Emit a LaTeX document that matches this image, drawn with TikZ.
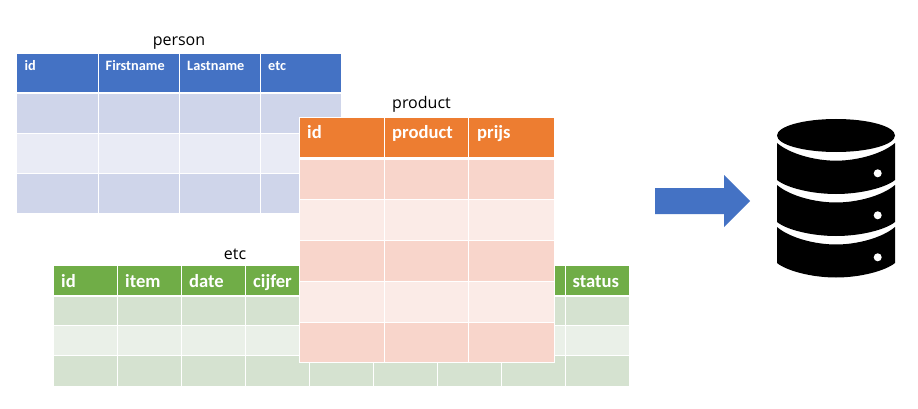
\documentclass[tikz,border=0pt]{standalone}
\usepackage{fontspec}
\setmainfont{Carlito}
\newfontfamily\titlefont{Open Sans}
\definecolor{bluehead}{HTML}{4472C4}
\definecolor{bluedark}{HTML}{CFD5EA}
\definecolor{bluelight}{HTML}{E9EBF5}
\definecolor{orangehead}{HTML}{ED7D31}
\definecolor{orangedark}{HTML}{F8D5CB}
\definecolor{orangelight}{HTML}{FBEBE7}
\definecolor{greenhead}{HTML}{70AD47}
\definecolor{greendark}{HTML}{D5E2D0}
\definecolor{greenlight}{HTML}{EAF0E8}
\tikzset{
  x=1pt,y=-1pt,
  tabletitle/.style={font=\titlefont\fontsize{16}{18}\selectfont,text=black,inner sep=0pt,anchor=base},
  headtext/.style={font=\bfseries\fontsize{#1}{18}\selectfont,text=white,inner sep=0pt,anchor=base west},
  sep/.style={white,line width=1pt},
  dbpart/.style={fill=black,draw=none}
}
\begin{document}
\begin{tikzpicture}
\useasboundingbox (0,0) rectangle (918,409);
\fill[white] (0,0) rectangle (918,409);

% person table
\fill[bluehead] (17,54) rectangle (341,92);
\fill[bluedark] (17,94.5) rectangle (341,133.5);
\fill[bluelight] (17,133.5) rectangle (341,173.5);
\fill[bluedark] (17,173.5) rectangle (341,213);
\foreach \c in {98,179,260} \draw[sep] (\c,54) -- (\c,213);
\draw[sep] (17,133.5) -- (341,133.5);
\draw[sep] (17,173.5) -- (341,173.5);
\node[tabletitle] (personT) at (179,46) {person};
\node[headtext=14.3] (p1) at (24.5,71) {id};
\node[headtext=14.3] (p2) at (105.5,71) {Firstname};
\node[headtext=14.3] (p3) at (187,71) {Lastname};
\node[headtext=14.3] (p4) at (268,71) {etc};

% etc table
\fill[greenhead] (53.5,266) rectangle (629,295);
\fill[greendark] (53.5,297) rectangle (629,325.5);
\fill[greenlight] (53.5,325.5) rectangle (629,355.5);
\fill[greendark] (53.5,355.5) rectangle (629,385.5);
\foreach \c in {117.5,181.5,245.5,309.5,373.5,437.5,501.5,565.5} \draw[sep] (\c,266) -- (\c,385.5);
\draw[sep] (53.5,325.5) -- (629,325.5);
\draw[sep] (53.5,355.5) -- (629,355.5);
\node[tabletitle] (etcT) at (235,259) {etc};
\node[headtext=18.6] (e1) at (61,287) {id};
\node[headtext=18.6] (e2) at (125,287) {item};
\node[headtext=18.6] (e3) at (189,287) {date};
\node[headtext=18.6] (e4) at (253,287) {cijfer};
\node[headtext=18.6] (e5) at (572.5,287) {status};

% product table
\fill[white] (298.5,117) rectangle (554.5,363);
\fill[orangehead] (299.5,118) rectangle (553.5,157);
\fill[orangedark] (299.5,160) rectangle (553.5,199.5);
\fill[orangelight] (299.5,199.5) rectangle (553.5,240.5);
\fill[orangedark] (299.5,240.5) rectangle (553.5,281);
\fill[orangelight] (299.5,281) rectangle (553.5,322);
\fill[orangedark] (299.5,322) rectangle (553.5,362);
\foreach \c in {384,468.5} \draw[sep] (\c,118) -- (\c,362);
\foreach \r in {199.5,240.5,281,322} \draw[sep] (299.5,\r) -- (553.5,\r);
\node[tabletitle] (productT) at (421.5,109) {product};
\node[headtext=18.6] (o1) at (307,138.5) {id};
\node[headtext=18.6] (o2) at (392,138.5) {product};
\node[headtext=18.6] (o3) at (477,138.5) {prijs};

% arrow
\fill[bluehead] (655,188) -- (724,188) -- (724,175) -- (750,201) -- (724,227) -- (724,214) -- (655,214) -- cycle;

% database
\fill[dbpart] (836,135.5) ellipse [x radius=59, y radius=16.5];
\fill[dbpart] (777,143) .. controls (790,154) and (815,160.7) .. (836,160.7) .. controls (857,160.7) and (882,154) .. (895,143)
  -- (895,180) .. controls (885,188) and (860,194) .. (836,194) .. controls (812,194) and (787,188) .. (777,180) -- cycle;
\fill[dbpart] (777,185) .. controls (790,196) and (815,202.5) .. (836,202.5) .. controls (857,202.5) and (882,196) .. (895,185)
  -- (895,222) .. controls (885,230) and (860,236) .. (836,236) .. controls (812,236) and (787,230) .. (777,222) -- cycle;
\fill[dbpart] (777,227) .. controls (790,238) and (815,244.5) .. (836,244.5) .. controls (857,244.5) and (882,238) .. (895,227)
  -- (895,263) .. controls (885,271) and (860,277.5) .. (836,277.5) .. controls (812,277.5) and (787,271) .. (777,263) -- cycle;
\foreach \y in {173.3,215.3,257.3} \fill[white] (877.7,\y) circle [radius=4];
\end{tikzpicture}
\end{document}
